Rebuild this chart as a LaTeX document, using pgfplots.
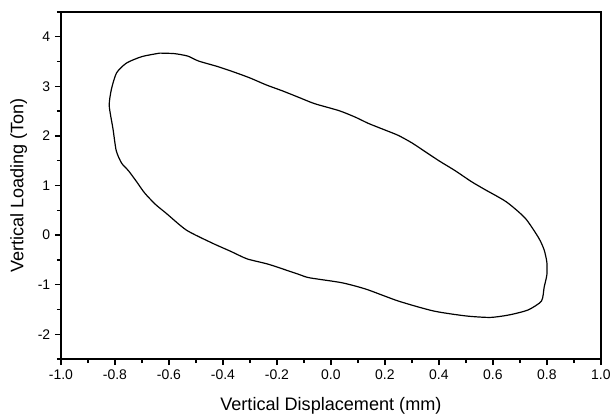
\documentclass[border=0pt]{standalone}
\usepackage{fontspec}
\setmainfont{Liberation Sans}
\usepackage{pgfplots}
\pgfplotsset{compat=1.18}

\begin{document}
\begin{tikzpicture}
\begin{axis}[
  scale only axis,
  width=406pt, height=261pt,
  xmin=-1, xmax=1,
  ymin=-2.5, ymax=4.5,
  xtick={-1,-0.8,...,1.0},
  minor xtick={-0.9,-0.7,...,0.9},
  ytick={-2,-1,...,4},
  minor ytick={-2.5,-1.5,...,4.5},
  xticklabel style={font=\fontsize{10.5}{12}\selectfont,
    /pgf/number format/fixed, /pgf/number format/fixed zerofill,
    /pgf/number format/precision=1},
  yticklabel style={font=\fontsize{10.5}{12}\selectfont},
  /pgf/number format/assume math mode=true,
  tick align=outside,
  major tick length=4.5pt,
  minor tick length=3pt,
  xtick pos=bottom, ytick pos=left,
  every tick/.style={black, line width=1pt},
  every minor tick/.style={black, line width=1pt},
  axis line style={line width=1pt},
  xlabel={Vertical Displacement (mm)},
  ylabel={Vertical Loading (Ton)},
  every axis x label/.style={at={(axis description cs:0.5,-0.135)}, anchor=center,
    font=\fontsize{13.6}{16}\selectfont},
  every axis y label/.style={at={(axis description cs:-0.078,0.5)}, rotate=90, anchor=center,
    font=\fontsize{13.6}{16}\selectfont},
]
\addplot[black, line width=0.9pt, smooth, tension=0.4] coordinates {
  (-0.634,3.67) (-0.58,3.66) (-0.53,3.61) (-0.49,3.51) (-0.42,3.40)
  (-0.36,3.29) (-0.30,3.17) (-0.24,3.03) (-0.18,2.91) (-0.12,2.78)
  (-0.06,2.65) (0.03,2.51) (0.09,2.38) (0.14,2.25) (0.20,2.12)
  (0.25,2.01) (0.30,1.86) (0.35,1.68) (0.40,1.50) (0.46,1.30)
  (0.52,1.08) (0.57,0.92) (0.65,0.67) (0.72,0.34) (0.77,-0.06)
  (0.79,-0.30) (0.80,-0.55) (0.80,-0.80) (0.79,-1.05) (0.78,-1.33)
  (0.73,-1.51) (0.66,-1.61) (0.59,-1.66) (0.50,-1.63) (0.38,-1.53)
  (0.25,-1.33) (0.13,-1.09) (0.04,-0.96) (-0.08,-0.86) (-0.12,-0.79)
  (-0.23,-0.59) (-0.31,-0.48) (-0.37,-0.33) (-0.44,-0.16) (-0.535,0.10)
  (-0.61,0.44) (-0.65,0.62) (-0.69,0.85) (-0.72,1.08) (-0.75,1.30)
  (-0.775,1.45) (-0.795,1.70) (-0.807,2.14) (-0.821,2.61) (-0.813,2.94)
  (-0.794,3.27) (-0.757,3.47) (-0.70,3.60) (-0.634,3.67)
};
\end{axis}
\path (current axis.south west) ++(-45.8pt,-40.5pt);
\path (current axis.north east) ++(9.8pt,9pt);
\end{tikzpicture}
\end{document}
